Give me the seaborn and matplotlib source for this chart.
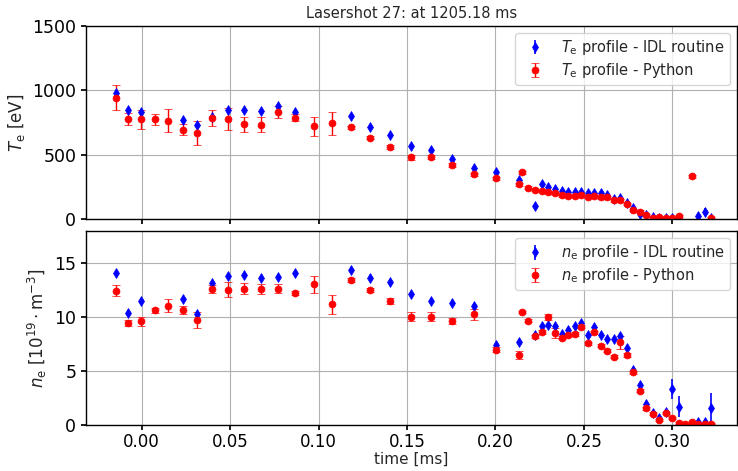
import numpy as np
import matplotlib
matplotlib.use("Agg")
import matplotlib.pyplot as plt
import seaborn as sns

# --- Python evaluation of the Thomson profiles -------------------------------
time_py = [-0.0144, -0.0075, -0.0003, 0.0074, 0.0152, 0.0233, 0.0314, 0.0400,
           0.0491, 0.0579, 0.0673, 0.0771, 0.0869, 0.0973, 0.1076, 0.1182,
           0.1291, 0.1404, 0.1521, 0.1637, 0.1756, 0.1880, 0.2005, 0.2133,
           0.2148, 0.2185, 0.2223, 0.2261, 0.2299, 0.2336, 0.2374, 0.2410,
           0.2447, 0.2483, 0.2521, 0.2558, 0.2594, 0.2632, 0.2669, 0.2705,
           0.2743, 0.2779, 0.2815, 0.2852, 0.2890, 0.2925, 0.2962, 0.2999,
           0.3035, 0.3071, 0.3108, 0.3146, 0.3182, 0.3219]
te_py = [943, 777, 773, 773, 765, 695, 667, 783,
         777, 736, 734, 829, 788, 721, 742, 711,
         633, 558, 478, 483, 421, 346, 315, 269,
         362, 243, 225, 217, 209, 199, 183, 181,
         178, 186, 173, 176, 168, 168, 145, 145,
         116, 70, 57, 28, 10, 18, 10, 5,
         23, np.nan, 331, np.nan, np.nan, 5]
te_py_err = [95, 50, 70, 40, 90, 45, 95, 63,
             85, 57, 60, 45, 25, 73, 89, 15,
             15, 15, 20, 15, 15, 15, 12, 12,
             10, 10, 10, 10, 10, 10, 10, 10,
             10, 10, 10, 10, 10, 10, 10, 10,
             10, 10, 10, 8, 8, 8, 8, 8,
             8, 8, 10, 8, 8, 8]
ne_py = [12.46, 9.44, 9.60, 10.62, 11.06, 10.68, 9.72, 12.61,
         12.55, 12.64, 12.61, 12.64, 12.24, 13.05, 11.18, 13.45,
         12.55, 11.50, 10.06, 10.06, 9.63, 10.25, 6.99, 6.52,
         10.47, 9.69, 8.23, 8.60, 10.04, 8.54, 8.08, 8.33,
         8.45, 9.13, 7.58, 8.60, 7.36, 6.90, 6.34, 7.67,
         6.49, 4.88, 3.17, 1.55, 1.05, 0.47, 1.09, 0.68,
         0.16, 0.06, 0.28, 0.10, 0.10, 0.10]
ne_py_err = [0.53, 0.30, 0.42, 0.25, 0.60, 0.40, 0.75, 0.40,
             0.67, 0.50, 0.50, 0.40, 0.20, 0.80, 0.84, 0.15,
             0.20, 0.30, 0.40, 0.40, 0.30, 0.50, 0.20, 0.37,
             0.10, 0.10, 0.15, 0.20, 0.30, 0.50, 0.15, 0.15,
             0.15, 0.15, 0.15, 0.15, 0.15, 0.15, 0.15, 0.60,
             0.15, 0.15, 0.15, 0.15, 0.15, 0.10, 0.10, 0.10,
             0.10, 0.05, 0.05, 0.05, 0.05, 0.05]

# --- IDL routine results -----------------------------------------------------
time_idl = [-0.0144, -0.0075, -0.0003, 0.0233, 0.0314, 0.0400, 0.0491, 0.0579,
            0.0673, 0.0771, 0.0869, 0.1182, 0.1291, 0.1404, 0.1521, 0.1637,
            0.1756, 0.1880, 0.2005, 0.2133, 0.2223, 0.2261, 0.2299, 0.2336,
            0.2374, 0.2410, 0.2447, 0.2483, 0.2521, 0.2558, 0.2594, 0.2632,
            0.2669, 0.2705, 0.2743, 0.2779, 0.2815, 0.2852, 0.2890, 0.2925,
            0.2962, 0.2999, 0.3035, 0.3146, 0.3182, 0.3219]
te_idl = [979, 845, 829, 767, 731, 795, 845, 845,
          837, 878, 835, 801, 715, 649, 568, 535,
          467, 395, 362, 302, 101, 269, 250, 233,
          217, 212, 212, 212, 199, 204, 201, 186,
          158, 160, 127, 83, 39, 28, 15, 8,
          5, 5, 5, 25, 55, 5]
te_idl_err = [12, 10, 10, 10, 10, 10, 10, 10,
              10, 10, 10, 10, 10, 10, 10, 10,
              10, 10, 10, 10, 12, 10, 10, 10,
              10, 10, 10, 10, 10, 10, 10, 10,
              10, 10, 10, 10, 10, 10, 10, 8,
              5, 5, 5, 25, 28, 5]
ne_idl = [14.07, 10.37, 11.46, 11.68, 10.31, 13.20, 13.82, 13.88,
          13.60, 13.73, 14.07, 14.38, 13.67, 13.30, 12.11, 11.50,
          11.34, 11.06, 7.39, 7.67, 8.39, 9.16, 9.25, 9.16,
          8.45, 8.85, 9.16, 9.47, 8.39, 9.07, 8.39, 8.01,
          8.00, 8.29, 7.15, 5.13, 3.73, 1.99, 1.10, 0.68,
          1.24, 3.35, 1.71, 0.30, 0.30, 1.55]
ne_idl_err = [0.25, 0.25, 0.25, 0.25, 0.25, 0.25, 0.25, 0.25,
              0.25, 0.25, 0.25, 0.25, 0.25, 0.25, 0.25, 0.25,
              0.25, 0.25, 0.25, 0.25, 0.25, 0.25, 0.25, 0.25,
              0.25, 0.25, 0.25, 0.25, 0.25, 0.25, 0.25, 0.25,
              0.25, 0.25, 0.25, 0.25, 0.25, 0.25, 0.25, 0.25,
              0.25, 0.93, 1.00, 0.30, 0.25, 1.40]

title = "Lasershot 27: at 1205.18 ms"

sns.set_theme(style="ticks")
plt.rcParams.update({
    "font.family": ["DejaVu Sans"],
    "axes.edgecolor": "black",
    "axes.linewidth": 1.0,
    "xtick.color": "black",
    "ytick.color": "black",
    "xtick.direction": "out",
    "ytick.direction": "out",
    "xtick.major.size": 3.5,
    "ytick.major.size": 3.5,
    "grid.color": "#b0b0b0",
    "grid.linewidth": 0.8,
})

fig = plt.figure(figsize=(7.38, 4.71), dpi=100)
ax_t = fig.add_axes([0.1165, 0.535, 0.882, 0.410])
ax_n = fig.add_axes([0.1165, 0.0977, 0.882, 0.412], sharex=ax_t)

idl_style = dict(fmt="d", color="blue", ecolor="blue", markersize=5,
                 markeredgewidth=0.5, elinewidth=1.2, capsize=0)
py_style = dict(fmt="o", color="red", ecolor="red", markersize=5,
                markeredgewidth=0.5, elinewidth=1.0, capsize=3, capthick=1.0)

ax_t.errorbar(time_idl, te_idl, yerr=te_idl_err,
              label=r"$T_\mathrm{e}$ profile - IDL routine", **idl_style)
ax_t.errorbar(time_py, te_py, yerr=te_py_err,
              label=r"$T_\mathrm{e}$ profile - Python", **py_style)

ax_n.errorbar(time_idl, ne_idl, yerr=ne_idl_err,
              label=r"$n_\mathrm{e}$ profile - IDL routine", **idl_style)
ax_n.errorbar(time_py, ne_py, yerr=ne_py_err,
              label=r"$n_\mathrm{e}$ profile - Python", **py_style)

ax_t.set_xlim(-0.0314, 0.3364)
ax_t.set_ylim(0, 1500)
ax_t.set_yticks([0, 500, 1000, 1500])
ax_n.set_ylim(0, 18)
ax_n.set_yticks([0, 5, 10, 15])
ax_n.set_xticks(np.arange(0.0, 0.31, 0.05))
ax_n.xaxis.set_major_formatter(matplotlib.ticker.FormatStrFormatter("%.2f"))
plt.setp(ax_t.get_xticklabels(), visible=False)

for ax in (ax_t, ax_n):
    ax.grid(True)
    ax.tick_params(labelsize=12.5)
    ax.legend(loc="upper right", fontsize=10.5, framealpha=0.8,
              edgecolor="#cccccc", fancybox=True, labelspacing=0.25,
              borderpad=0.35)
ax_n.tick_params(axis="x", labelsize=12, pad=2.5)

ax_t.set_ylabel(r"$T_\mathrm{e}$ [eV]", fontsize=12)
ax_n.set_ylabel(r"$n_\mathrm{e}$ $[10^{19} \cdot \mathrm{m}^{-3}]$", fontsize=12)
ax_n.set_xlabel("time [ms]", fontsize=11, labelpad=0)
ax_t.set_title(title, fontsize=10.5, pad=6)

fig.savefig("out.png", dpi=100)
